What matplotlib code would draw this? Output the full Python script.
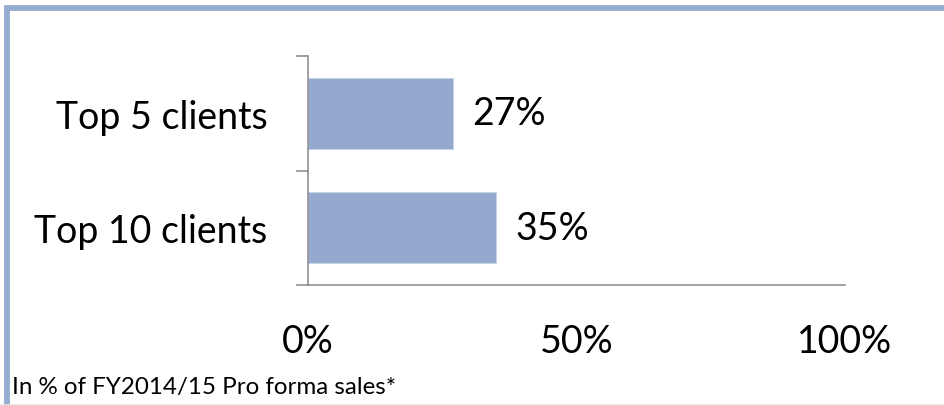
import matplotlib
matplotlib.use('Agg')
import matplotlib.pyplot as plt
from matplotlib.patches import Rectangle
from matplotlib.ticker import FixedLocator

plt.rcParams['font.family'] = ['Lato', 'DejaVu Sans']

categories = ['Top 5 clients', 'Top 10 clients']
shares = [27, 35]
value_labels = ['27%', '35%']
x_ticks = [0, 50, 100]
x_tick_labels = ['0%', '50%', '100%']

bar_color = '#93A9CD'
axis_color = '#868686'

fig = plt.figure(figsize=(9.45, 4.06), dpi=100, facecolor='white')
ax = fig.add_axes([308 / 945, 120 / 406, 537 / 945, 229 / 406])

pos = list(range(len(categories)))
bars = ax.barh(pos, shares, height=0.62, color=bar_color, edgecolor='#C5D3E6', linewidth=0.6)
ax.set_ylim(len(categories) - 0.5, -0.5)
ax.set_xlim(0, 100)

# category labels, ticks at category boundaries
ax.set_yticks(pos)
ax.set_yticklabels(categories, fontsize=27)
ax.tick_params(axis='y', which='major', length=0, pad=29)
ax.yaxis.set_minor_locator(FixedLocator([p - 0.5 for p in pos] + [pos[-1] + 0.5]))
ax.tick_params(axis='y', which='minor', length=8.6, width=1.1, color=axis_color)

ax.set_xticks(x_ticks)
ax.set_xticklabels(x_tick_labels, fontsize=27)
ax.tick_params(axis='x', length=0, pad=27.5)

for b, lab in zip(bars, value_labels):
    ax.annotate(lab, (b.get_width(), b.get_y() + b.get_height() / 2),
                xytext=(14, 0), textcoords='offset points',
                va='center', ha='left', fontsize=27)

for s in ['top', 'right']:
    ax.spines[s].set_visible(False)
for s in ['left', 'bottom']:
    ax.spines[s].set_color(axis_color)
    ax.spines[s].set_linewidth(1.1)

fig.text(12 / 945, 18 / 406, 'In % of FY2014/15 Pro forma sales*', fontsize=17.4,
         ha='left', va='center')

# frame round the chart
fig.patches.append(Rectangle((7.5 / 945, -0.2), 1.2, 1.2 + (406 - 8.5) / 406 - 1.0,
                             transform=fig.transFigure, fill=False,
                             edgecolor='#95ADCF', linewidth=4.2))
fig.lines.append(plt.Line2D([0, 1], [0.5 / 406, 0.5 / 406], transform=fig.transFigure,
                            color='#E6E6E6', linewidth=1.2))

fig.savefig('out.png', dpi=100, facecolor='white')
